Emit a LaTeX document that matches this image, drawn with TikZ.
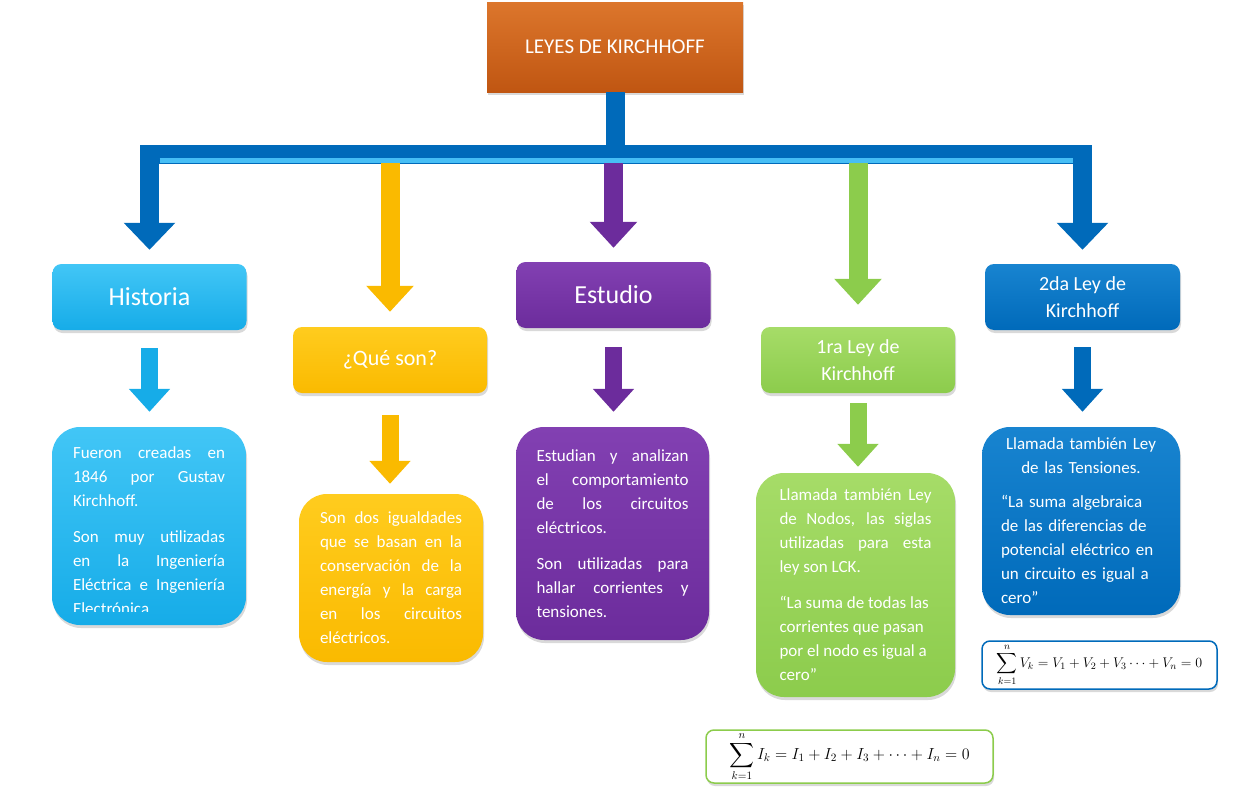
\RequirePackage{fix-cm}
\documentclass[tikz,border=0pt]{standalone}
\usepackage{exscale}
\usepackage[no-math]{fontspec}
\setmainfont{Carlito}
\usetikzlibrary{arrows.meta,shadows}
\definecolor{naranja}{RGB}{192,86,18}
\definecolor{naranjaclaro}{RGB}{220,118,44}
\definecolor{celeste}{RGB}{22,172,232}
\definecolor{celesteclaro}{RGB}{66,198,246}
\definecolor{amarillo}{RGB}{250,186,0}
\definecolor{amarilloclaro}{RGB}{255,204,30}
\definecolor{morado}{RGB}{108,44,156}
\definecolor{moradoclaro}{RGB}{130,64,178}
\definecolor{verde}{RGB}{140,204,76}
\definecolor{verdeclaro}{RGB}{166,220,104}
\definecolor{azul}{RGB}{0,106,186}
\definecolor{azulclaro}{RGB}{24,132,208}
\definecolor{brillo}{RGB}{70,190,245}

\begin{document}
\begin{tikzpicture}[x=1pt,y=-1pt]
        \tikzstyle{every node}=[text=white,inner sep=0pt,align=center]
        \tikzstyle{sombra}=[drop shadow={opacity=0.3,shadow xshift=1pt,shadow yshift=-3pt}]
        \tikzstyle{titulo}=[rectangle,sombra,top color=naranjaclaro,bottom color=naranja,minimum width=256pt,minimum height=90pt,font=\fontsize{21}{25}\selectfont]
        \tikzstyle{cabeza}=[rectangle,rounded corners=9pt,sombra,minimum width=194pt,minimum height=66pt]
        \tikzstyle{parrafo}=[text width=152pt,align=justify,font=\fontsize{17}{24}\selectfont]
        \tikzstyle{cuerpo}=[rectangle,rounded corners=28pt,sombra,parrafo]
        \tikzstyle{formula}=[rectangle,rounded corners=8pt,sombra,fill=white,line width=1.5pt,text=black]
        \tikzstyle{tubo}=[line width=19pt,-{Triangle[width=46pt,length=26pt]}]
        \tikzstyle{tubito}=[line width=17pt,-{Triangle[width=40pt,length=23pt]}]
        \useasboundingbox (0,0) rectangle (1235,803);
        \coordinate (barra) at (615,154);
        \coordinate (bajo) at (615,163);
        \node[titulo] (leyes) at (615,47) {LEYES DE KIRCHHOFF};
        \node[cabeza,top color=celesteclaro,bottom color=celeste,font=\fontsize{26}{30}\selectfont] (historia) at (149.5,297) {Historia};
        \node[cabeza,top color=amarilloclaro,bottom color=amarillo,font=\fontsize{22}{26}\selectfont] (queson) at (390,360) {¿Qué son?};
        \node[cabeza,top color=moradoclaro,bottom color=morado,font=\fontsize{26}{30}\selectfont] (estudio) at (613.5,295) {Estudio};
        \node[cabeza,top color=verdeclaro,bottom color=verde,font=\fontsize{20}{27}\selectfont] (primera) at (858,360) {1ra Ley de\\Kirchhoff};
        \node[cabeza,top color=azulclaro,bottom color=azul,minimum width=195pt,font=\fontsize{20}{27}\selectfont] (segunda) at (1082.5,297) {2da Ley de\\Kirchhoff};
        \node[cuerpo,top color=celesteclaro,bottom color=celeste,minimum width=194pt,minimum height=198pt] (histcaja) at (149,526) {};
        \begin{scope}
        \clip (histcaja.north west) rectangle (histcaja.east |- 0,611);
        \node[parrafo] (histtexto) at (149,531) {Fueron creadas en\linebreak 1846 por Gustav\linebreak Kirchhoff.\par\vspace{12pt}Son muy utilizadas\linebreak en la Ingeniería\linebreak Eléctrica e Ingeniería\linebreak Electrónica};
        \end{scope}
        \node[cuerpo,top color=amarilloclaro,bottom color=amarillo,text width=142pt,minimum width=184pt,minimum height=168pt] (quesontexto) at (391,578) {Son dos igualdades\linebreak que se basan en la\linebreak conservación de la\linebreak energía y la carga\linebreak en los circuitos\linebreak eléctricos.};
        \node[cuerpo,top color=moradoclaro,bottom color=morado,minimum width=193pt,minimum height=213pt] (estudiotexto) at (612.5,533.5) {Estudian y analizan\linebreak el comportamiento\linebreak de los circuitos\linebreak eléctricos.\par\vspace{12pt}Son utilizadas para\linebreak hallar corrientes y\linebreak tensiones.};
        \node[cuerpo,top color=verdeclaro,bottom color=verde,minimum width=199pt,minimum height=224pt] (primeratexto) at (855.5,585) {Llamada también Ley\linebreak de Nodos, las siglas\linebreak utilizadas para esta\linebreak ley son LCK.\par\vspace{12pt}“La suma de todas las\\corrientes que pasan\\por el nodo es igual a\\cero”};
        \node[cuerpo,top color=azulclaro,bottom color=azul,align=left,text width=160pt,minimum width=198pt,minimum height=188pt] (segundatexto) at (1081,521) {{\centering Llamada también Ley\\de las Tensiones.\par}\vspace{10pt}“La suma algebraica\\de las diferencias de\\potencial eléctrico en\\un circuito es igual a\\cero”};
        \node[formula,draw=verde,minimum width=287pt,minimum height=53pt,font=\fontsize{16}{20}\selectfont] (sumacorrientes) at (849.5,756.5) {$\displaystyle\sum_{k=1}^{n} I_k = I_1 + I_2 + I_3 + \cdots + I_n = 0$};
        \node[formula,draw=azul,minimum width=235pt,minimum height=48pt,font=\fontsize{14}{17}\selectfont] (sumatensiones) at (1099.5,665) {$\displaystyle\sum_{k=1}^{n} V_k = V_1 + V_2 + V_3 \cdots + V_n = 0$};
        \draw[tubo,azul,-,line join=miter] (leyes.south) -- (leyes.south |- barra);
        \draw[tubo,azul,{Triangle[width=50pt,length=27pt]}-{Triangle[width=50pt,length=27pt]},line join=miter,shorten <=14pt,shorten >=14pt] (historia.north) -- (historia.north |- barra) -- (segunda.north |- barra) -- (segunda.north);
        \draw[brillo,line width=5pt] (159.5,160.5) -- (1073,160.5);
        \draw[tubo,amarillo,shorten >=15pt] (queson.north |- bajo) -- (queson.north);
        \draw[tubo,morado,shorten >=14pt] (estudio.north |- bajo) -- (estudio.north);
        \draw[tubo,verde,shorten >=22pt] (primera.north |- bajo) -- (primera.north);
        \draw[tubito,celeste,shorten <=18pt,shorten >=15pt] (historia.south) -- (historia.south |- histcaja.north);
        \draw[tubito,amarillo,shorten <=22pt,shorten >=10pt] (queson.south) -- (queson.south |- quesontexto.north);
        \draw[tubito,morado,shorten <=19pt,shorten >=15pt] (estudio.south) -- (estudio.south |- estudiotexto.north);
        \draw[tubito,verde,shorten <=10pt,shorten >=6pt] (primera.south) -- (primera.south |- primeratexto.north);
        \draw[tubito,azul,shorten <=17pt,shorten >=15pt] (segunda.south) -- (segunda.south |- segundatexto.north);
\end{tikzpicture}
\end{document}
